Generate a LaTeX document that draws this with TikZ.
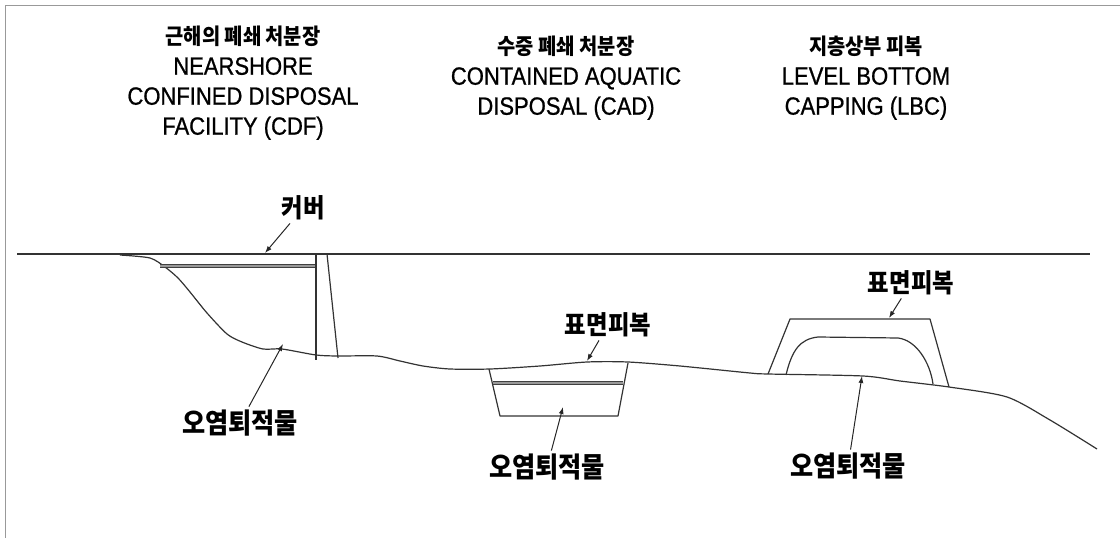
\documentclass[tikz,border=0pt]{standalone}
\usepackage{fontspec}
\usetikzlibrary{arrows.meta}
\newfontfamily\kr[FakeStretch=0.9]{Noto Sans CJK KR}
\newfontfamily\en[FakeStretch=0.88,FakeBold=0.8]{Liberation Sans}
\begin{document}
\begin{tikzpicture}[x=1pt,y=-1pt,
  ln/.style={draw=black!80,line width=1.2pt,line join=round},
  band/.style={draw=black!75,line width=0.9pt,double=black!40,double distance=1.8pt},
  leader/.style={draw=black!85,line width=1pt,-{Latex[length=7pt,width=5pt]}},
  ttl/.style={align=center,inner sep=0pt,font=\en\fontsize{25}{30}\selectfont},
  lbl/.style={inner sep=3pt,font=\kr\bfseries\fontsize{26}{28}\selectfont},
  big/.style={inner sep=3pt,font=\kr\bfseries\fontsize{28}{30}\selectfont}]
\useasboundingbox (0,0) rectangle (1120,538);
% page edge
\draw[black!40,line width=1pt] (5,538) -- (5,5) -- (1120,5);

% titles of the three disposal methods
\node[ttl] (tcdf) at (243,83) {{\kr\bfseries\fontsize{22}{30}\selectfont 근해의 폐쇄 처분장}\\NEARSHORE\\CONFINED DISPOSAL\\FACILITY (CDF)};
\node[ttl] (tcad) at (566,78) {{\kr\bfseries\fontsize{22}{30}\selectfont 수중 폐쇄 처분장}\\CONTAINED AQUATIC\\DISPOSAL (CAD)};
\node[ttl] (tlbc) at (866,78) {{\kr\bfseries\fontsize{22}{30}\selectfont 지층상부 피복}\\LEVEL BOTTOM\\CAPPING (LBC)};

% water surface
\coordinate (ws) at (17,254);
\coordinate (we) at (1090,254);
\draw[ln] (ws) -- (we);

% sea bed profile
\draw[ln] plot[smooth,tension=0.45] coordinates {
  (120,255) (150,258) (165,267) (178,278) (190,292) (207,313) (227,334)
  (242,342) (263,349) (282,349) (316,355) (338,356) (377,356) (400,361)
  (423,366) (450,369) (490,369) (540,366) (587,362) (628,362) (680,366)
  (750,373) (768,374) (863,376) (900,381) (949,387) (1007,397) (1050,420)
  (1097,449)};

% nearshore confined facility: dike wall and cover
\coordinate (wl1) at (316,254);
\coordinate (wl2) at (316,360);
\coordinate (wr1) at (327,254);
\coordinate (wr2) at (338,358);
\draw[ln] (wl1) -- (wl2);
\draw[ln] (wr1) -- (wr2);
\coordinate (cv1) at (160,266);
\coordinate (cv2) at (315,266);
\draw[band] (cv1) -- (cv2);

% contained aquatic disposal pit
\coordinate (p1) at (489,369);
\coordinate (p2) at (500,416);
\coordinate (p3) at (618,416);
\coordinate (p4) at (628,363);
\draw[ln] (p1) -- (p2) -- (p3) -- (p4);
\coordinate (pc1) at (493,383);
\coordinate (pc2) at (623,383);
\draw[band] (pc1) -- (pc2);

% level bottom capping mound
\coordinate (m1) at (768,374);
\coordinate (m2) at (790,319);
\coordinate (m3) at (930,319);
\coordinate (m4) at (949,387);
\draw[ln] (m1) -- (m2) -- (m3) -- (m4);
\draw[ln] (786,375) .. controls (792,350) and (800,339) .. (818,337)
  -- (898,338) .. controls (916,340) and (930,362) .. (933,384);

% labels with leaders
\node[lbl] (kcov) at (303,208) {커버};
\coordinate (acov) at (265,253);
\draw[leader] (kcov) -- (acov);

\node[big] (ksed1) at (240,423) {오염퇴적물};
\coordinate (ased1) at (283,344);
\draw[leader] (ksed1) -- (ased1);

\node[lbl] (kcap1) at (608,325) {표면피복};
\coordinate (acap1) at (587,361);
\draw[leader] (kcap1) -- (acap1);

\node[big] (ksed2) at (547,467) {오염퇴적물};
\coordinate (ased2) at (563,407);
\draw[leader] (ksed2) -- (ased2);

\node[lbl] (kcap2) at (911,283) {표면피복};
\coordinate (acap2) at (889,318);
\draw[leader] (kcap2) -- (acap2);

\node[big] (ksed3) at (848,466) {오염퇴적물};
\coordinate (ased3) at (862,376);
\draw[leader] (ksed3) -- (ased3);
\end{tikzpicture}
\end{document}
